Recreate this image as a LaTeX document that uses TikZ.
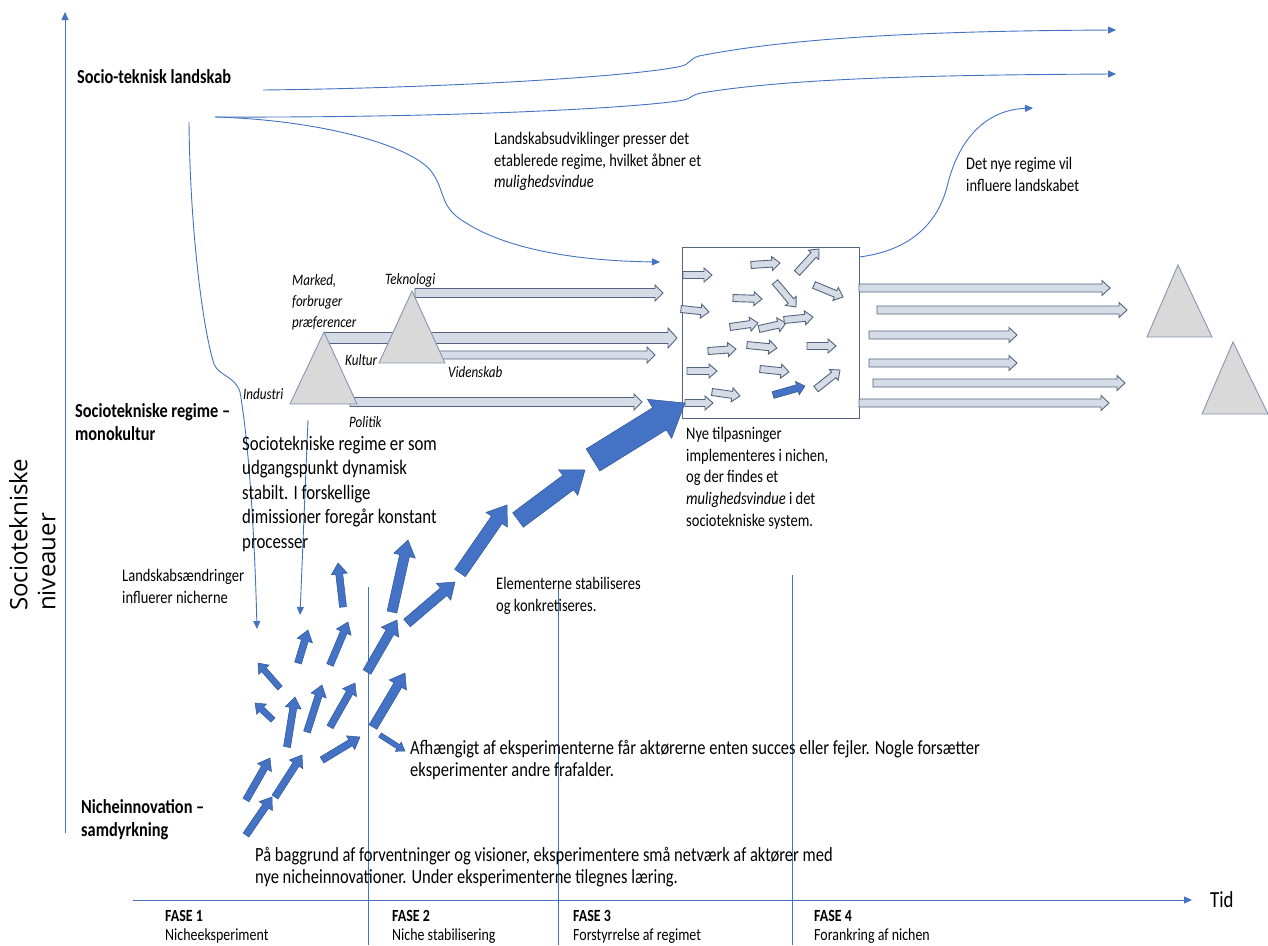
\documentclass[tikz,border=0pt]{standalone}
\usepackage{fontspec}
\setmainfont{Carlito}[FakeStretch=0.82]
\newfontfamily\axisfont{Open Sans}
\usetikzlibrary{calc,arrows.meta,positioning}

\definecolor{lineblue}{RGB}{68,114,196}
\definecolor{nicheblue}{RGB}{68,114,196}
\definecolor{nicheedge}{RGB}{47,85,151}
\definecolor{regimefill}{RGB}{214,220,229}
\definecolor{regimeedge}{RGB}{84,100,128}
\definecolor{trifill}{RGB}{217,217,217}
\definecolor{triedge}{RGB}{132,151,176}

% block arrow: style, tail, tip, half body, half head, head length
\newcommand{\blockarrow}[6]{%
  \coordinate (ba-t) at #2;
  \coordinate (ba-h) at #3;
  \coordinate (ba-b) at ($(ba-h)!#6!(ba-t)$);
  \path[#1] ($(ba-t)!#4!90:(ba-h)$) -- ($(ba-b)!#4!90:(ba-h)$) -- ($(ba-b)!#5!90:(ba-h)$) -- (ba-h)
    -- ($(ba-b)!#5!-90:(ba-h)$) -- ($(ba-b)!#4!-90:(ba-h)$) -- ($(ba-t)!#4!-90:(ba-h)$) -- cycle;
}

\begin{document}
\begin{tikzpicture}[x=1pt, y=-1pt,
        thin line/.style={draw=lineblue, line width=0.9pt},
        thin arrow/.style={thin line, -{Triangle[length=8pt,width=7pt]}},
        niche/.style={fill=nicheblue, draw=nicheedge, line width=0.5pt},
        regime/.style={fill=regimefill, draw=regimeedge, line width=0.9pt},
        tri/.style={fill=trifill, draw=triedge, line width=0.9pt},
        levellabel/.style={font=\fontsize{19.9}{23}\selectfont\bfseries, align=left, inner sep=0pt, anchor=north west},
        notetxt/.style={font=\fontsize{17.7}{21.7}\selectfont, align=left, inner sep=0pt, anchor=north west},
        widetxt/.style={font=\fontsize{20.1}{22}\selectfont, align=left, inner sep=0pt, anchor=north west},
        dimlabel/.style={font=\fontsize{15.9}{21}\selectfont\itshape, align=left, inner sep=0pt, anchor=north west},
        bigtxt/.style={font=\fontsize{20.5}{24.5}\selectfont, align=left, inner sep=0pt, anchor=north west},
        fasetxt/.style={font=\fontsize{17}{19}\selectfont, align=left, inner sep=0pt, anchor=north west}
    ]
        \useasboundingbox (0,0) rectangle (1268,945);
        \fill[white] (0,0) rectangle (1268,945);
        % Axes
        \coordinate (yfoot) at (65,833);
        \coordinate (ytop) at (65,12);
        \coordinate (xfoot) at (133,900);
        \coordinate (xend) at (1192,900);
        \draw[thin arrow] (yfoot) -- (ytop);
        \draw[thin arrow] (xfoot) -- (xend);
        \node[right=18pt of xend, inner sep=0pt, font=\fontsize{23}{26}\selectfont] (tid) {Tid};
        \node[font=\axisfont\fontsize{24}{28}\selectfont, rotate=90, align=left, inner sep=0pt, anchor=north west] (niveau) at (9,611) {Sociotekniske\\niveauer};
        % Landscape
        \coordinate (landA) at (263,90);
        \coordinate (landB) at (215,117);
        \coordinate (landD) at (189,122);
        \coordinate (endA) at (1116,30);
        \coordinate (endB) at (1116,74);
        \coordinate (endC) at (660,262);
        \coordinate (endD) at (257,629);
        \coordinate (topE) at (308,420);
        \coordinate (endE) at (300,615);
        \coordinate (endF) at (1033,108);
        \draw[thin arrow] (landA) .. controls (450,88) and (640,76) .. (682,66)
            .. controls (690,64) and (689,59) .. (699,56) .. controls (780,40) and (900,31) .. (endA);
        \draw[thin arrow] (landB) .. controls (450,118) and (640,108) .. (684,100)
            .. controls (692,98) and (691,95) .. (701,93) .. controls (780,80) and (900,75) .. (endB);
        \draw[thin arrow] (landB) .. controls (320,120) and (410,145) .. (431,171)
            .. controls (444,188) and (440,202) .. (456,216) .. controls (500,250) and (580,261) .. (endC);
        \draw[thin arrow] (landD) .. controls (190,230) and (203,330) .. (214,364)
            .. controls (219,376) and (235,376) .. (240,392) .. controls (250,450) and (255,550) .. (endD);
        \draw[thin arrow] (topE) -- (endE);
        % Phases
        \draw[thin line] (368,587) -- (368,945);
        \draw[thin line] (558,587) -- (558,945);
        \draw[thin line] (792,575) -- (792,945);
        % Regime
        \blockarrow{regime}{(415,293)}{(663,293)}{4.5pt}{8pt}{8pt}
        \blockarrow{regime}{(324,338)}{(677,338)}{5.5pt}{10pt}{9pt}
        \blockarrow{regime}{(435,355)}{(655,355)}{4pt}{8pt}{8pt}
        \blockarrow{regime}{(350,402)}{(642,402)}{4.5pt}{8pt}{8pt}
        \draw[tri] (324,332) -- (357,404) -- (290,404) -- cycle;
        \draw[tri] (412,291) -- (445,363) -- (379,363) -- cycle;
        % Window
        \node[draw=regimeedge, line width=0.8pt, minimum width=177pt, minimum height=171pt, inner sep=0pt] (window) at (770.5,332.5) {};
        \coordinate (startF) at (859,257);
        \draw[thin arrow] (startF) .. controls (900,252) and (935,232) .. (947,187)
            .. controls (958,140) and (985,110) .. (endF);
        \foreach \ta/\tb/\ha/\hb in {683/275/712/275, 751/265/780/263, 797/273/819/249, 681/309/709/312,
            733/298/762/299, 775/282/796/307, 814/285/843/297, 730/327/758/323,
            759/329/786/323, 784/320/813/317, 708/351/736/349, 747/345/777/348,
            807/346/836/346, 687/371/717/371, 760/369/789/372, 712/392/740/396,
            685/403/713/403, 816/389/840/370}
            {\blockarrow{regime}{(\ta,\tb)}{(\ha,\hb)}{3.5pt}{7pt}{8pt}}
        \blockarrow{niche}{(773,395)}{(805,386)}{3.5pt}{7pt}{8pt}
        \blockarrow{regime}{(859,288)}{(1110,288)}{4pt}{7.5pt}{8pt}
        \blockarrow{regime}{(877,310)}{(1127,310)}{4pt}{7.5pt}{8pt}
        \blockarrow{regime}{(869,335)}{(1017,335)}{4pt}{7.5pt}{8pt}
        \blockarrow{regime}{(869,363)}{(1017,363)}{4pt}{7.5pt}{8pt}
        \blockarrow{regime}{(873,383)}{(1125,383)}{4pt}{7.5pt}{8pt}
        \blockarrow{regime}{(859,403)}{(1109,403)}{4pt}{7.5pt}{8pt}
        \draw[tri] (1178,265) -- (1212,337) -- (1147,337) -- cycle;
        \draw[tri] (1233,342) -- (1268,414) -- (1202,414) -- cycle;
        % Niche
        \foreach \ta/\tb/\ha/\hb in {246/835/272/797, 246/800/270/758, 275/797/302/755, 322/760/360/737,
            287/747/295/697, 307/732/322/685, 330/727/355/683, 298/663/308/630,
            330/665/348/622, 343/607/338/563}
            {\blockarrow{niche}{(\ta,\tb)}{(\ha,\hb)}{3.5pt}{8pt}{11pt}}
        \blockarrow{niche}{(273,720)}{(255,703)}{3pt}{7pt}{9pt}
        \blockarrow{niche}{(280,688)}{(258,663)}{3pt}{7pt}{9pt}
        \blockarrow{niche}{(380,735)}{(405,751)}{2.5pt}{5.5pt}{8pt}
        \blockarrow{niche}{(367,672)}{(397,620)}{4.5pt}{10pt}{14pt}
        \blockarrow{niche}{(373,727)}{(405,673)}{4.5pt}{10pt}{14pt}
        \blockarrow{niche}{(392,612)}{(408,540)}{5pt}{11pt}{16pt}
        \blockarrow{niche}{(407,623)}{(455,582)}{5pt}{11pt}{15pt}
        \blockarrow{niche}{(460,573)}{(507,505)}{6.5pt}{13pt}{18pt}
        \blockarrow{niche}{(518,520)}{(585,470)}{9pt}{16pt}{21pt}
        \blockarrow{niche}{(593,460)}{(685,403)}{13pt}{23pt}{30pt}
        % Levels
        \node[levellabel] (landskab) at (77,69) {Socio-teknisk landskab};
        \node[levellabel] (regimelbl) at (75,403) {Sociotekniske regime --\\monokultur};
        \node[levellabel] (nichelbl) at (81,799) {Nicheinnovation --\\samdyrkning};
        % Dimensions
        \node[dimlabel] (marked) at (292,274) {Marked,\\forbruger\\præferencer};
        \node[dimlabel] (tekno) at (385,273) {Teknologi};
        \node[dimlabel] (kultur) at (345,354) {Kultur};
        \node[dimlabel] (viden) at (448,366) {Videnskab};
        \node[dimlabel] (industri) at (243,388) {Industri};
        \node[dimlabel] (politik) at (349,416) {Politik};
        % Notes
        \node[notetxt] (pres) at (494,132) {Landskabsudviklinger presser det\\etablerede regime, hvilket åbner et\\\textit{mulighedsvindue}};
        \node[notetxt] (influere) at (966,157) {Det nye regime vil\\influere landskabet};
        \node[bigtxt] (dynamisk) at (242,436) {Sociotekniske regime er som\\udgangspunkt dynamisk\\stabilt. I forskellige\\dimissioner foregår konstant\\processer};
        \node[notetxt] (aendr) at (122,569) {Landskabsændringer\\influerer nicherne};
        \node[notetxt] (stabil) at (496,577) {Elementerne stabiliseres\\og konkretiseres.};
        \node[notetxt] (nye) at (686,427) {Nye tilpasninger\\implementeres i nichen,\\og der findes et\\\textit{mulighedsvindue} i det\\sociotekniske system.};
        \node[widetxt] (succes) at (410,740) {Afhængigt af eksperimenterne får aktørerne enten succes eller fejler. Nogle forsætter\\eksperimenter andre frafalder.};
        \node[widetxt] (baggrund) at (255,847) {På baggrund af forventninger og visioner, eksperimentere små netværk af aktører med\\nye nicheinnovationer. Under eksperimenterne tilegnes læring.};
        % Phases
        \node[fasetxt] (fase1) at (165,910) {\textbf{FASE 1}\\Nicheeksperiment};
        \node[fasetxt] (fase2) at (392,910) {\textbf{FASE 2}\\Niche stabilisering};
        \node[fasetxt] (fase3) at (573,910) {\textbf{FASE 3}\\Forstyrrelse af regimet};
        \node[fasetxt] (fase4) at (814,910) {\textbf{FASE 4}\\Forankring af nichen};
    \end{tikzpicture}
\end{document}
